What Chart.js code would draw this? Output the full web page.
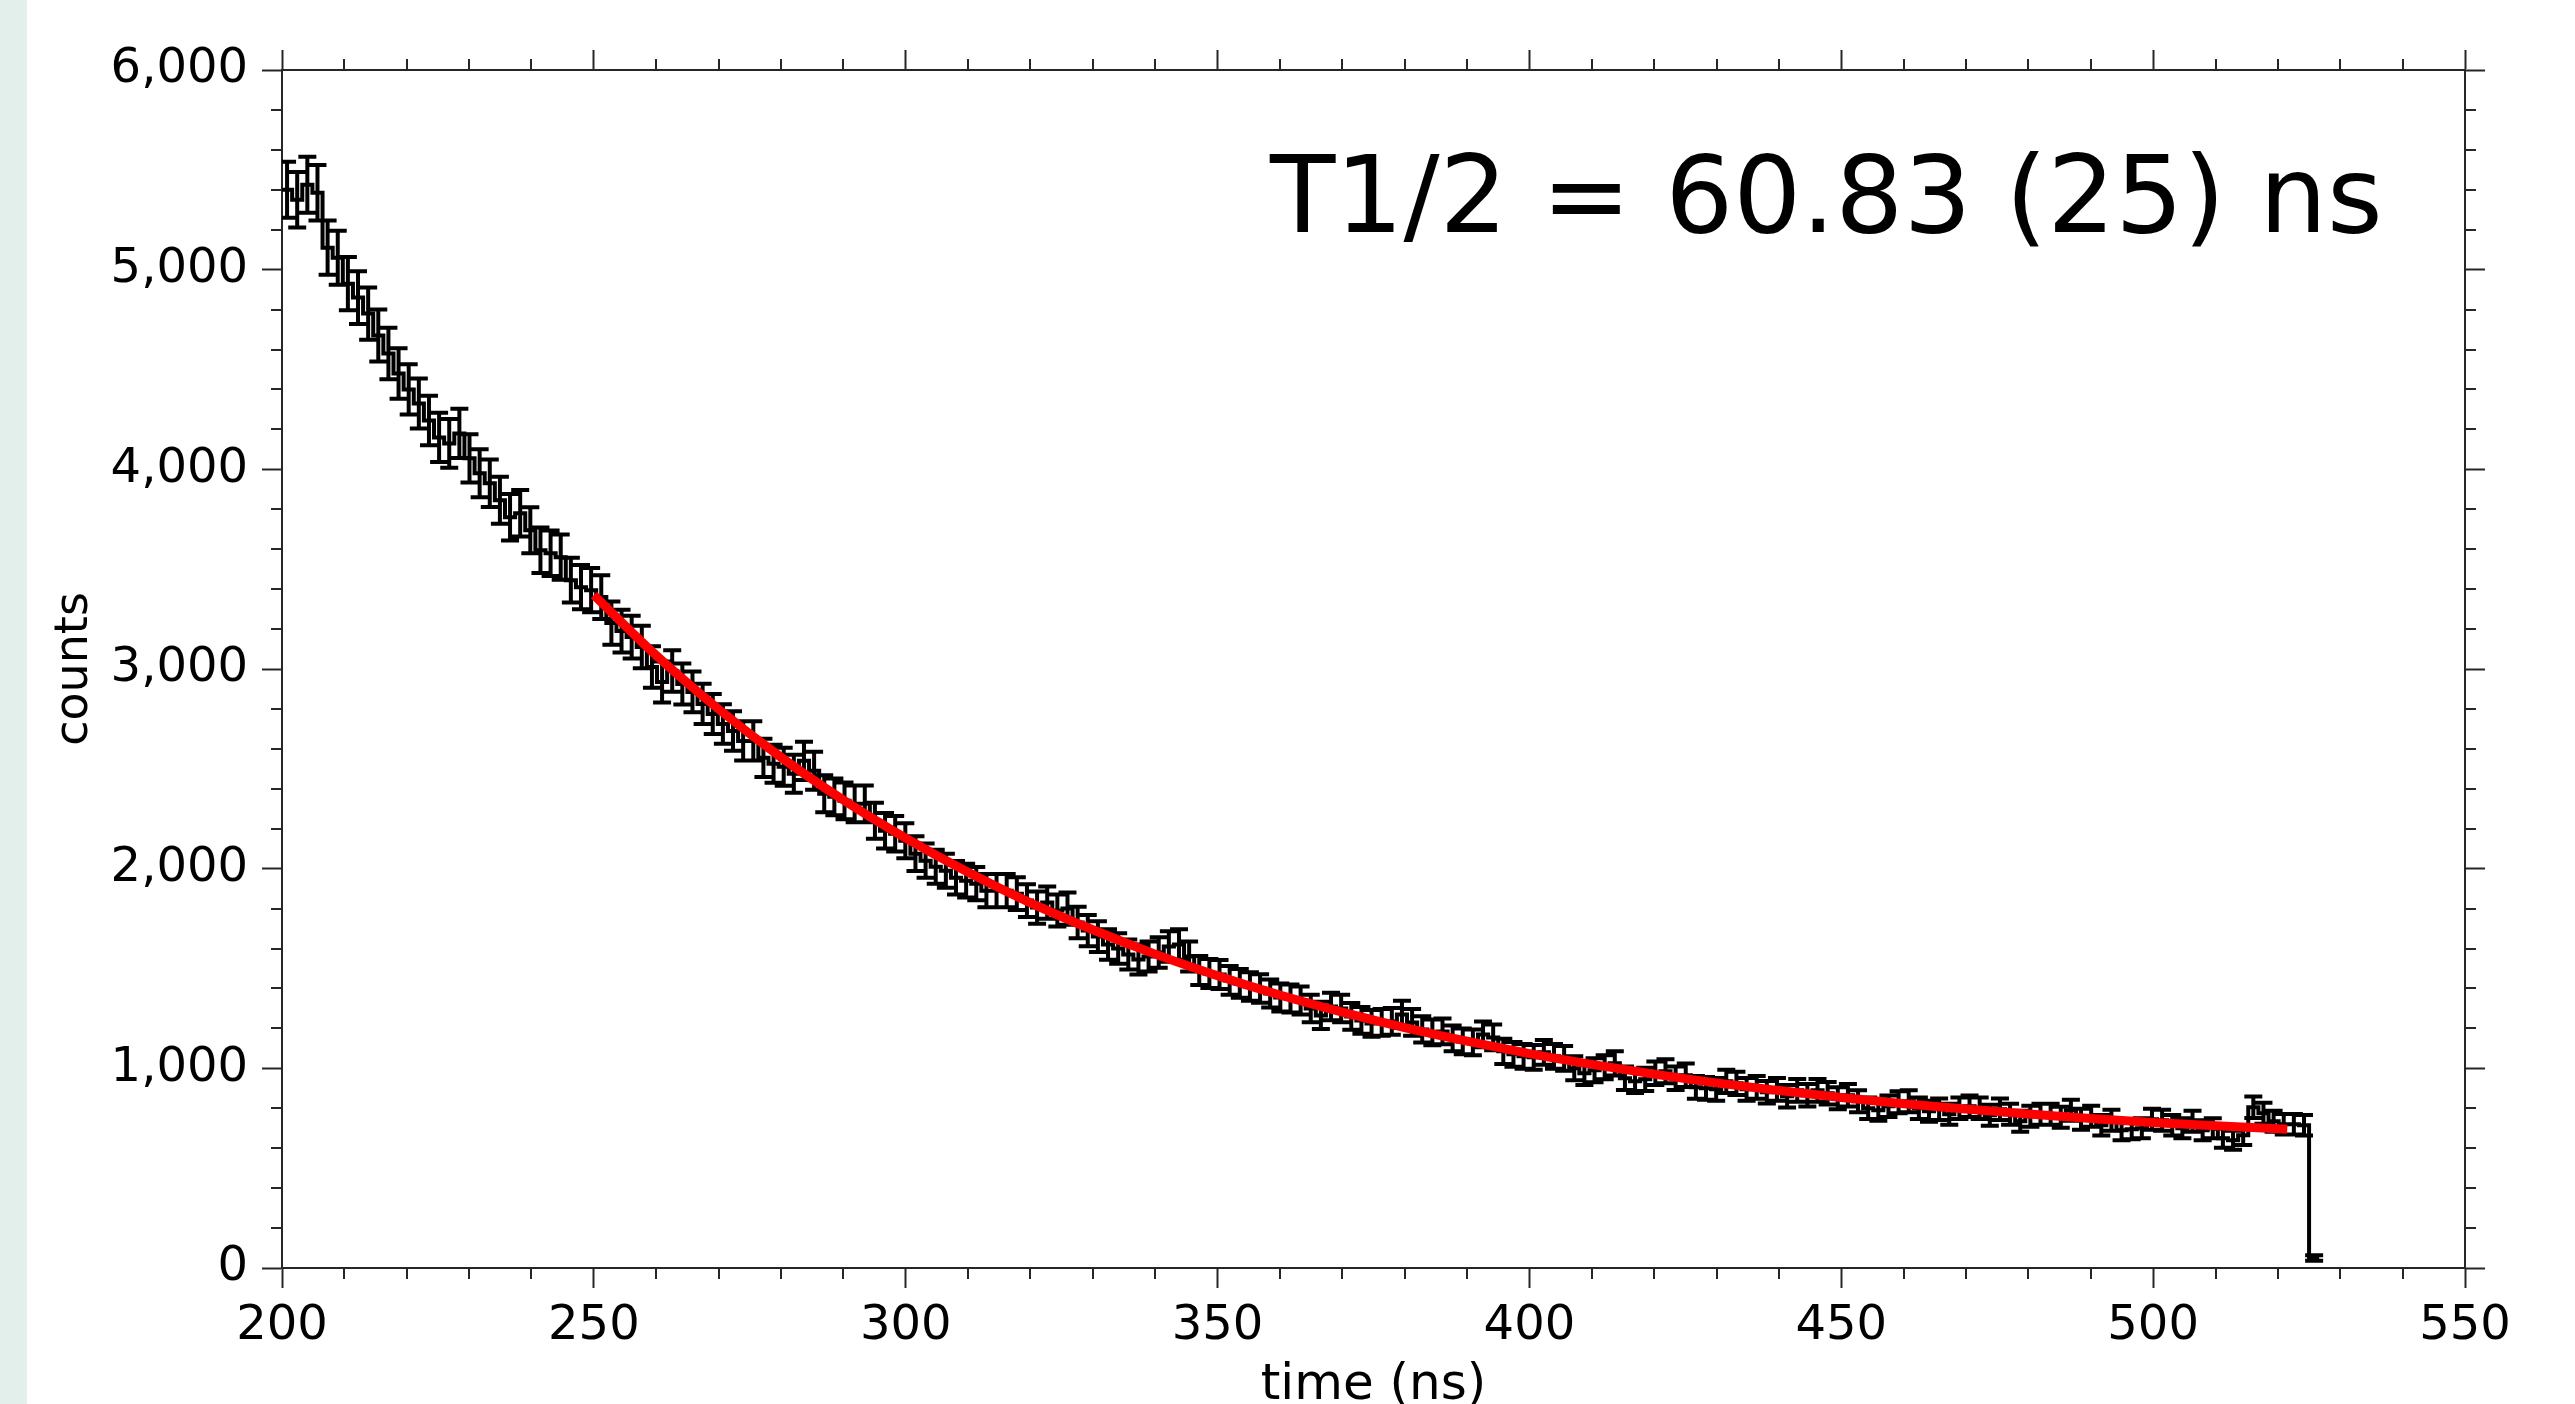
<!DOCTYPE html>
<html>
<head>
<meta charset="utf-8">
<script src="https://cdn.jsdelivr.net/npm/chart.js@4.4.1/dist/chart.umd.min.js"></script>
<style>
html,body{margin:0;padding:0;background:#fff;}
#wrap{position:relative;width:2575px;height:1404px;}
canvas{display:block;}
</style>
</head>
<body>
<div id="wrap"><canvas id="c" width="2575" height="1404"></canvas></div>
<script>
// ---- data ----
const binStart = 200;      // ns, left edge of first bin
const binWidth = 1.625;    // ns
const counts = [
  5400,5350,5425,5385,5110,5060,4930,4860,4780,4670,
  4580,4480,4400,4330,4245,4160,4130,4180,4055,3980,
  3930,3845,3760,3780,3695,3595,3580,3560,3445,3410,
  3395,3360,3230,3190,3160,3110,3010,2935,2990,2925,
  2885,2825,2775,2725,2690,2640,2640,2555,2525,2510,
  2475,2540,2490,2375,2360,2340,2325,2325,2240,2190,
  2175,2140,2075,2040,2010,1990,1955,1940,1925,1890,
  1890,1890,1875,1840,1805,1830,1790,1800,1730,1690,
  1660,1620,1600,1570,1545,1560,1580,1610,1620,1560,
  1490,1475,1470,1440,1425,1410,1400,1375,1355,1350,
  1340,1300,1265,1310,1300,1260,1240,1225,1230,1235,
  1270,1230,1195,1180,1185,1150,1135,1130,1170,1155,
  1085,1070,1060,1055,1080,1060,1050,1000,975,990,
  1005,1025,950,935,945,975,985,950,965,905,
  900,895,935,925,895,905,880,895,860,890,
  865,890,875,850,865,835,800,790,810,830,
  835,800,785,795,770,800,810,800,765,795,
  770,735,760,770,770,755,790,745,760,715,
  740,690,695,700,745,740,715,700,735,690,
  700,650,640,665,805,775,735,720,720,715,
  50
];
const errors = [
  140,139,140,139,136,135,133,132,131,130,
  129,127,126,125,124,123,122,123,121,120,
  119,118,117,117,115,114,114,113,112,111,
  111,110,108,107,107,106,104,103,104,103,
  102,101,100,99,99,98,98,96,95,95,
  95,96,95,93,92,92,92,92,90,89,
  89,88,87,86,85,85,84,84,83,83,
  83,83,82,82,81,81,80,81,79,78,
  77,76,76,75,75,75,76,76,76,75,
  73,73,73,72,72,71,71,70,70,70,
  70,69,68,69,69,67,67,67,67,67,
  68,67,66,65,65,64,64,64,65,65,
  63,62,62,62,62,62,62,60,59,60,
  60,61,59,58,58,59,60,59,59,57,
  57,57,58,58,57,57,56,57,56,57,
  56,57,56,55,56,55,54,53,54,55,
  55,54,53,54,53,54,54,54,53,54,
  53,52,52,53,53,52,53,52,52,51,
  52,50,50,50,52,52,51,50,52,50,
  50,48,48,49,54,53,52,51,51,51,
  14
];
const fitTimes  = [250,260,270,280,290,300,310,320,330,340,350,360,370,380,390,400,410,420,430,440,450,460,470,480,490,500,510,521.5];
const fitValues = [3370,3068,2799,2558,2344,2153,1982,1829,1694,1572,1464,1367,1281,1204,1136,1074,1020,971,927,889,854,823,796,771,749,729,712,695];
const xRange = [200, 550];
const yRange = [0, 6000];
const xMajorStep = 50, xMinorStep = 10;
const yMajorStep = 1000, yMinorStep = 200;
const xTitle = 'time (ns)';
const yTitle = 'counts';
const annotationText = 'T1/2 = 60.83 (25) ns';
const annotationPos = {x: 358.4, y: 5190};

// ---- build library data ----
const histPoints = counts.map((v, k) => ({x: binStart + k * binWidth, y: v}));
histPoints.push({x: binStart + counts.length * binWidth, y: counts[counts.length - 1]});
const fitPoints = fitTimes.map((t, i) => ({x: t, y: fitValues[i]}));

const FONT = "'DejaVu Sans', sans-serif";
const AXIS = '#262626';

const background = {
  id: 'background',
  beforeDraw(chart) {
    const ctx = chart.ctx;
    ctx.save();
    ctx.fillStyle = '#ffffff';
    ctx.fillRect(0, 0, chart.width, chart.height);
    ctx.fillStyle = '#e2efea';
    ctx.fillRect(0, 0, 27, chart.height);
    ctx.restore();
  }
};

const errorBars = {
  id: 'errorBars',
  afterDatasetDraw(chart, args) {
    if (args.index !== 1) return;
    const {ctx, chartArea: a, scales: {x, y}} = chart;
    ctx.save();
    ctx.beginPath();
    ctx.rect(a.left, a.top - 2, a.right - a.left, a.bottom - a.top + 4);
    ctx.clip();
    ctx.strokeStyle = '#000';
    ctx.lineWidth = 4;
    ctx.beginPath();
    counts.forEach((v, k) => {
      const cx = x.getPixelForValue(binStart + (k + 0.5) * binWidth);
      const top = y.getPixelForValue(v + errors[k]);
      const bot = y.getPixelForValue(v - errors[k]);
      ctx.moveTo(cx, top); ctx.lineTo(cx, bot);
      ctx.moveTo(cx - 9, top); ctx.lineTo(cx + 9, top);
      ctx.moveTo(cx - 9, bot); ctx.lineTo(cx + 9, bot);
    });
    ctx.stroke();
    ctx.restore();
  }
};

const minorTicks = {
  id: 'minorTicks',
  afterDraw(chart) {
    const {ctx, chartArea: a, scales: {x, y}} = chart;
    ctx.save();
    ctx.strokeStyle = AXIS;
    ctx.lineWidth = 2;
    ctx.beginPath();
    for (let v = xRange[0]; v <= xRange[1]; v += xMinorStep) {
      if (v % xMajorStep === 0) continue;
      const px = Math.round(x.getPixelForValue(v));
      ctx.moveTo(px, a.bottom); ctx.lineTo(px, a.bottom + 11);
      ctx.moveTo(px, a.top); ctx.lineTo(px, a.top - 11);
    }
    for (let v = yRange[0]; v <= yRange[1]; v += yMinorStep) {
      if (v % yMajorStep === 0) continue;
      const py = Math.round(y.getPixelForValue(v));
      ctx.moveTo(a.left, py); ctx.lineTo(a.left - 11, py);
      ctx.moveTo(a.right, py); ctx.lineTo(a.right + 11, py);
    }
    ctx.stroke();
    // annotation
    ctx.fillStyle = '#000';
    ctx.font = "107px 'DejaVu Sans'";
    ctx.textAlign = 'left';
    ctx.textBaseline = 'alphabetic';
    ctx.fillText(annotationText, x.getPixelForValue(annotationPos.x), y.getPixelForValue(annotationPos.y));
    ctx.restore();
  }
};

const gridOpts = {drawOnChartArea: false, drawTicks: true, tickLength: 20, tickWidth: 2, tickColor: AXIS};
const borderOpts = {display: true, color: AXIS, width: 2};

new Chart(document.getElementById('c'), {
  type: 'line',
  data: {
    datasets: [
      {data: fitPoints, borderColor: '#ff0000', borderWidth: 9, pointRadius: 0, fill: false,
       cubicInterpolationMode: 'monotone'},
      {data: histPoints, stepped: true, borderColor: '#000', borderWidth: 4, pointRadius: 0, fill: false,
       tension: 0}
    ]
  },
  options: {
    responsive: false,
    animation: false,
    devicePixelRatio: 1,
    layout: {padding: 0},
    plugins: {legend: {display: false}, tooltip: {enabled: false}},
    scales: {
      x: {
        type: 'linear', position: 'bottom', min: xRange[0], max: xRange[1],
        ticks: {stepSize: xMajorStep, color: '#000', font: {family: FONT, size: 48}, padding: 10,
                maxRotation: 0, autoSkip: false, callback: v => String(v)},
        grid: gridOpts, border: borderOpts,
        title: {display: true, text: xTitle, color: '#000', font: {family: FONT, size: 50, lineHeight: 1.2},
                padding: {top: 0, bottom: -12}},
        afterFit(s) { s.height = 136; }
      },
      xTop: {
        type: 'linear', position: 'top', min: xRange[0], max: xRange[1],
        ticks: {display: false, stepSize: xMajorStep},
        grid: gridOpts, border: borderOpts,
        afterFit(s) { s.height = 70; }
      },
      y: {
        type: 'linear', position: 'left', min: yRange[0], max: yRange[1],
        ticks: {stepSize: yMajorStep, color: '#000', font: {family: FONT, size: 48}, padding: 14,
                callback: v => v.toLocaleString('en-US')},
        grid: gridOpts, border: borderOpts,
        title: {display: true, text: yTitle, color: '#000', font: {family: FONT, size: 46, lineHeight: 1.2},
                padding: {top: 47, bottom: 0}},
        afterFit(s) { s.width = 282; }
      },
      yRight: {
        type: 'linear', position: 'right', min: yRange[0], max: yRange[1],
        ticks: {display: false, stepSize: yMajorStep},
        grid: gridOpts, border: borderOpts,
        afterFit(s) { s.width = 110; }
      }
    }
  },
  plugins: [background, errorBars, minorTicks]
});
</script>
</body>
</html>
